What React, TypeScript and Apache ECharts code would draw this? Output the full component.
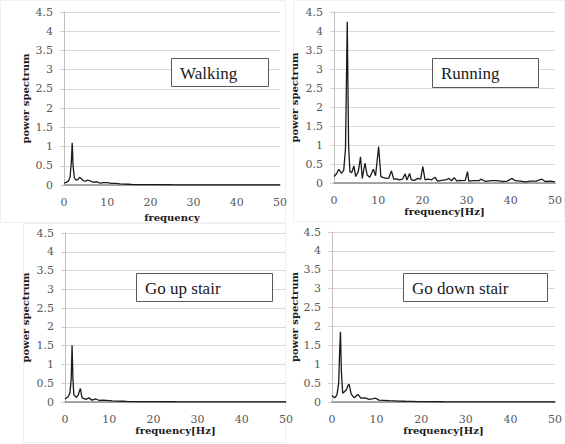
import React, { useEffect, useRef } from "react";
import * as echarts from "echarts";

const yTicks = ["0", "0.5", "1", "1.5", "2", "2.5", "3", "3.5", "4", "4.5"];
const xTicks = [0, 10, 20, 30, 40, 50];

const walkFreq = [0, 0.5, 1.0, 1.4, 1.7, 1.9, 2.1, 2.4, 2.8, 3.2, 3.6, 4.0, 4.5, 5.0, 5.5, 6.0, 6.5, 7.0, 7.5, 8.0, 8.5, 9.0, 10, 11, 12, 13, 14, 15, 16, 18, 20, 25, 30, 35, 40, 45, 50];
const walkPower = [0.05, 0.07, 0.1, 0.2, 0.6, 1.1, 0.5, 0.18, 0.13, 0.14, 0.2, 0.16, 0.11, 0.1, 0.13, 0.11, 0.08, 0.07, 0.09, 0.06, 0.05, 0.06, 0.06, 0.04, 0.04, 0.03, 0.025, 0.02, 0.01, 0.008, 0.01, 0.006, 0.005, 0.005, 0.004, 0.004, 0.004];

const runFreq = [0, 0.6, 1.1, 1.7, 2.2, 2.6, 3.0, 3.3, 3.6, 4.0, 4.5, 4.9, 5.5, 6.0, 6.4, 7.0, 7.5, 8.1, 8.9, 9.4, 10.1, 10.6, 11.2, 11.8, 12.4, 13.0, 13.5, 14.2, 14.8, 15.5, 16.1, 16.5, 17.1, 17.5, 18.2, 19.0, 19.6, 20.1, 20.6, 21.3, 22.0, 22.9, 23.4, 24.3, 25.3, 26.0, 26.6, 27.2, 27.8, 28.4, 29.0, 29.7, 30.2, 30.5, 31.5, 32.8, 33.2, 34.3, 35.5, 36.9, 38.0, 39.2, 40.3, 41.0, 42.2, 43.3, 44.5, 45.8, 47.0, 47.8, 49.0, 50];
const runPower = [0.17, 0.25, 0.36, 0.25, 0.34, 0.9, 4.24, 1.0, 0.3, 0.27, 0.45, 0.17, 0.3, 0.69, 0.12, 0.52, 0.21, 0.15, 0.36, 0.19, 0.96, 0.17, 0.14, 0.12, 0.13, 0.32, 0.1, 0.11, 0.08, 0.1, 0.24, 0.08, 0.25, 0.08, 0.07, 0.12, 0.1, 0.43, 0.08, 0.1, 0.08, 0.15, 0.05, 0.07, 0.08, 0.12, 0.06, 0.14, 0.05, 0.07, 0.06, 0.07, 0.3, 0.05, 0.06, 0.06, 0.1, 0.04, 0.06, 0.06, 0.04, 0.05, 0.12, 0.06, 0.05, 0.03, 0.05, 0.05, 0.1, 0.04, 0.05, 0.03];

const upFreq = [0, 0.7, 1.1, 1.4, 1.6, 1.8, 2.0, 2.6, 3.0, 3.3, 3.5, 3.7, 3.9, 4.7, 5.4, 6.1, 7.0, 7.8, 8.5, 9.3, 10.7, 12, 13, 14, 15.2, 17, 20, 25, 30, 35, 40, 45, 50];
const upPower = [0.08, 0.14, 0.23, 0.6, 1.51, 0.6, 0.19, 0.12, 0.19, 0.3, 0.36, 0.2, 0.11, 0.07, 0.11, 0.05, 0.08, 0.04, 0.05, 0.045, 0.03, 0.025, 0.02, 0.015, 0.01, 0.008, 0.01, 0.006, 0.005, 0.005, 0.004, 0.004, 0.004];

const downFreq = [0, 0.6, 1.1, 1.5, 1.7, 1.9, 2.1, 2.4, 3.2, 3.6, 3.8, 4.0, 4.3, 5.0, 5.8, 6.5, 7.4, 8.3, 9.0, 9.8, 10.5, 11.5, 12.8, 14, 15, 16.4, 18, 19.4, 22, 25, 30, 35, 40, 45, 50];
const downPower = [0.17, 0.11, 0.18, 0.5, 1.3, 1.86, 0.8, 0.23, 0.32, 0.44, 0.47, 0.38, 0.21, 0.11, 0.2, 0.1, 0.11, 0.07, 0.08, 0.1, 0.05, 0.045, 0.035, 0.03, 0.025, 0.02, 0.015, 0.01, 0.008, 0.006, 0.005, 0.005, 0.004, 0.004, 0.004];

const panelNames = ["Walking", "Running", "Go up stair", "Go down stair"];
const xNames = ["frequency", "frequency[Hz]", "frequency[Hz]", "frequency[Hz]"];
const yName = "power spectrum";

export default function App() {
  const ref = useRef<HTMLDivElement>(null);
  useEffect(() => {
    if (!ref.current) return;
    const chart = echarts.init(ref.current, undefined, { renderer: "svg" });
    const grids = [
      { left: 64, top: 12, width: 216, height: 173 },
      { left: 334, top: 12, width: 222, height: 171 },
      { left: 65, top: 233, width: 221, height: 169 },
      { left: 332, top: 232, width: 226, height: 170 },
    ];
    const xGaps = [27, 23, 21, 18];
    const yGaps = [34, 35, 35, 33];
    const freqs = [walkFreq, runFreq, upFreq, downFreq];
    const powers = [walkPower, runPower, upPower, downPower];
    const boxes = [
      { x: 171, y: 58, w: 97, h: 28 },
      { x: 432, y: 58, w: 106, h: 29 },
      { x: 136, y: 273, w: 136, h: 28 },
      { x: 403, y: 273, w: 144, h: 28 },
    ];
    const font = "DejaVu Serif";
    const option: any = {
      animation: false,
      backgroundColor: "#ffffff",
      textStyle: { fontFamily: font },
      grid: grids.map((g) => ({ ...g, containLabel: false })),
      xAxis: grids.map((_, i) => ({
        type: "value",
        gridIndex: i,
        min: 0,
        max: 50,
        interval: 10,
        name: xNames[i],
        nameLocation: "middle",
        nameGap: xGaps[i],
        nameTextStyle: { fontFamily: font, fontWeight: "bold", fontSize: 10, color: "#1a1a1a" },
        axisLine: { show: true, onZero: false, lineStyle: { color: "#8c8c8c", width: 1.5 } },
        axisTick: { show: false },
        splitLine: { show: false },
        axisLabel: {
          fontFamily: font,
          fontSize: 11,
          color: "#595959",
          margin: 12,
          formatter: (v: number) => (xTicks.includes(v) ? String(v) : ""),
        },
      })),
      yAxis: grids.map((_, i) => ({
        type: "value",
        gridIndex: i,
        min: 0,
        max: 4.5,
        interval: 0.5,
        name: yName,
        nameLocation: "middle",
        nameGap: yGaps[i],
        nameTextStyle: { fontFamily: font, fontWeight: "bold", fontSize: 10, color: "#1a1a1a" },
        axisLine: { show: true, lineStyle: { color: "#bfbfbf" } },
        axisTick: { show: true, length: 4, lineStyle: { color: "#d0d0d0" } },
        splitLine: { show: true, lineStyle: { color: "#d9d9d9" } },
        axisLabel: {
          fontFamily: font,
          fontSize: 11,
          color: "#595959",
          margin: 11,
          formatter: (v: number) => {
            const s = String(Math.round(v * 10) / 10);
            return yTicks.includes(s) ? s : "";
          },
        },
      })),
      series: grids.map((_, i) => ({
        type: "line",
        xAxisIndex: i,
        yAxisIndex: i,
        showSymbol: false,
        symbol: "none",
        lineStyle: { color: "#1a1a1a", width: 1.3 },
        data: freqs[i].map((f, k) => [f, powers[i][k]]),
      })),
      graphic: [
        { type: "rect", z: 0, shape: { x: 0.5, y: 0.5, width: 285, height: 222 }, style: { fill: "none", stroke: "#f0f0f0", lineWidth: 1 }, silent: true },
        { type: "rect", z: 0, shape: { x: 293.5, y: 0.5, width: 271, height: 221 }, style: { fill: "none", stroke: "#f0f0f0", lineWidth: 1 }, silent: true },
        { type: "rect", z: 0, shape: { x: 23.5, y: 223.5, width: 262, height: 219 }, style: { fill: "none", stroke: "#f0f0f0", lineWidth: 1 }, silent: true },
        ...boxes.flatMap((b, i) => [
          {
            type: "rect",
            z: 100,
            shape: { x: b.x + 0.5, y: b.y + 0.5, width: b.w, height: b.h },
            style: { fill: "#ffffff", stroke: "#595959", lineWidth: 1 },
          },
          {
            type: "text",
            z: 101,
            x: b.x + 9,
            y: b.y + b.h / 2 + 1,
            style: {
              text: panelNames[i],
              fontFamily: "Liberation Serif",
              fontSize: 17,
              fill: "#1a1a1a",
              verticalAlign: "middle",
              align: "left",
            },
          },
        ]),
      ],
    };
    chart.setOption(option);
    return () => chart.dispose();
  }, []);
  return (
    <div
      ref={ref}
      style={{ position: "fixed", left: 0, top: 0, width: 565, height: 444, background: "#fff" }}
    />
  );
}
